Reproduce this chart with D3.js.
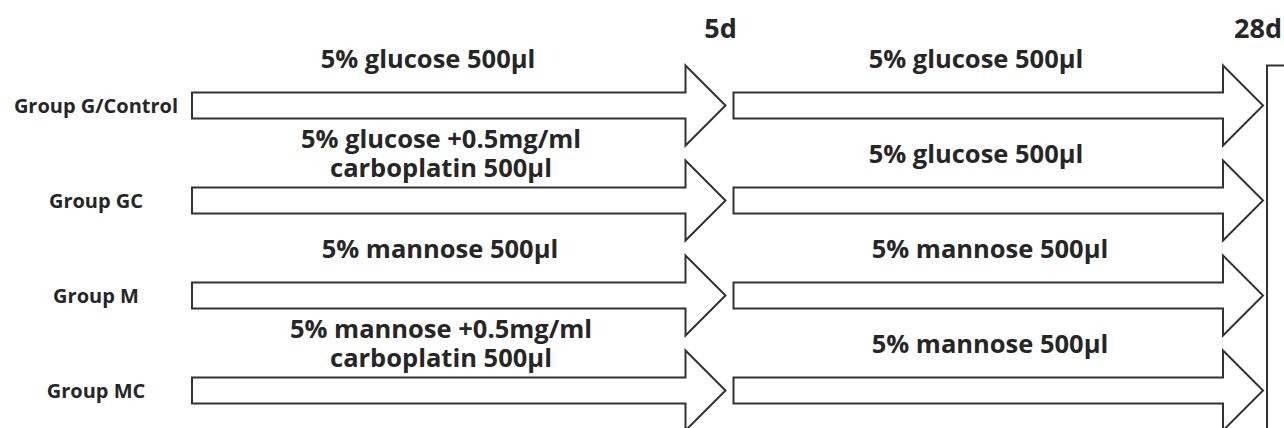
<!DOCTYPE html>
<html>
<head>
<meta charset="utf-8">
<script src="https://cdn.jsdelivr.net/npm/d3@7"></script>
<style>
  body { margin: 0; background: #fff; }
  text { font-family: "Open Sans", "Noto Sans", sans-serif; fill: #262626; }
</style>
</head>
<body>
<div id="chart"></div>
<script>
// groups down the left side
var groups = ["Group G/Control", "Group GC", "Group M", "Group MC"];
// time points along the top
var timePoints = ["0d", "5d", "28d"];
// treatment in the first phase (0d-5d), one entry per line
var phase1 = [
    ["5% glucose 500\u00b5l"],
    ["5% glucose +0.5mg/ml", "carboplatin 500\u00b5l"],
    ["5% mannose 500\u00b5l"],
    ["5% mannose +0.5mg/ml", "carboplatin 500\u00b5l"]
];
// treatment in the second phase (5d-28d)
var phase2 = [
    ["5% glucose 500\u00b5l"],
    ["5% glucose 500\u00b5l"],
    ["5% mannose 500\u00b5l"],
    ["5% mannose 500\u00b5l"]
];

var width = 1284, height = 428;

var svg = d3.select("#chart")
    .append("svg")
        .attr("width", width)
        .attr("height", height);

// Set the ranges
var x = d3.scalePoint().domain(timePoints).range([192, 1267]);
var y = d3.scaleBand().domain(groups).range([58, 438]);

var gap = 4, headLen = 40, headHalf = 40, shaftHalf = 13;

// arrow outline from x0 to x1 centred on cy
function arrow(x0, x1, cy) {
    var b = x1 - headLen;
    return "M" + x0 + "," + (cy - shaftHalf) +
        "L" + b + "," + (cy - shaftHalf) +
        "L" + b + "," + (cy - headHalf) +
        "L" + x1 + "," + cy +
        "L" + b + "," + (cy + headHalf) +
        "L" + b + "," + (cy + shaftHalf) +
        "L" + x0 + "," + (cy + shaftHalf) + "Z";
}

// end box
svg.append("rect")
    .attr("x", x("28d"))
    .attr("y", y(groups[0]) + y.bandwidth() / 2 - headHalf)
    .attr("width", 60)
    .attr("height", 400)
    .attr("fill", "#fff")
    .attr("stroke", "#333")
    .attr("stroke-width", 2);

var phases = [
    {from: "0d", to: "5d", labels: phase1},
    {from: "5d", to: "28d", labels: phase2}
];

groups.forEach(function(g, i) {
    var cy = y(g) + y.bandwidth() / 2;

    svg.append("text")
        .attr("x", 96)
        .attr("y", cy + 7)
        .attr("text-anchor", "middle")
        .style("font-size", "20px")
        .style("font-weight", 700)
        .text(g);

    phases.forEach(function(p, k) {
        var x0 = x(p.from) + (k === 0 ? 0 : gap);
        var x1 = x(p.to) - gap;
        svg.append("path")
            .attr("d", arrow(x0, x1, cy))
            .attr("fill", "#fff")
            .attr("stroke", "#333")
            .attr("stroke-width", 2)
            .attr("stroke-linejoin", "miter");

        var lines = p.labels[i];
        var cx = (k === 0) ? (lines.length > 1 ? 441 : (i === 0 ? 428 : 440)) : (i < 2 ? 976 : 990);
        var txt = svg.append("text")
            .attr("text-anchor", "middle")
            .style("font-size", "25.5px")
            .style("font-weight", 700);
        lines.forEach(function(t, j) {
            var by = lines.length > 1 ? cy - 53 + j * 29 : cy - 38;
            txt.append("tspan")
                .attr("x", cx)
                .attr("y", by)
                .text(t);
        });
    });
});

// time point labels
timePoints.slice(1).forEach(function(t) {
    svg.append("text")
        .attr("x", x(t) - 9)
        .attr("y", 38)
        .attr("text-anchor", "middle")
        .style("font-size", "27px")
        .style("font-weight", 700)
        .text(t);
});
</script>
</body>
</html>
